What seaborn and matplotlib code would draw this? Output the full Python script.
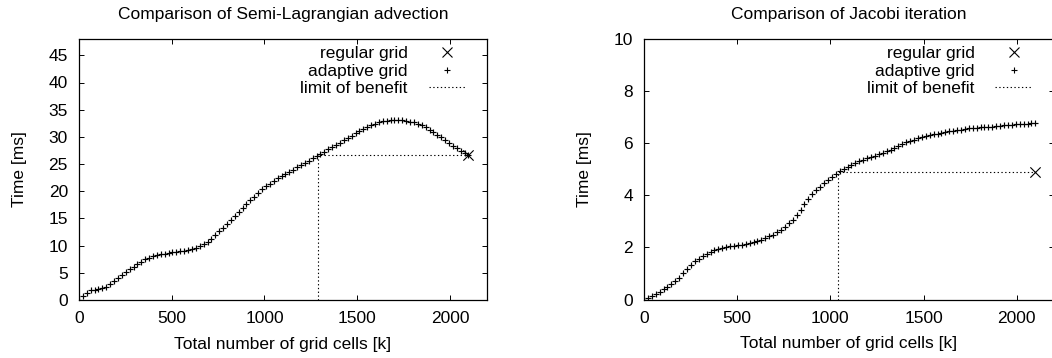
import matplotlib
matplotlib.use("Agg")
import matplotlib.pyplot as plt
import seaborn as sns
import pandas as pd
from matplotlib.lines import Line2D

# ---------------- data ----------------
cells_k = [0, 21, 42, 63, 84, 105, 126, 147, 168, 189, 210, 231, 252, 273, 294, 315, 336, 357, 378, 399,
           420, 441, 462, 483, 504, 525, 546, 567, 588, 609, 630, 651, 672, 693, 714, 735, 756, 777, 798, 819,
           840, 861, 882, 903, 924, 945, 966, 987, 1008, 1029, 1050, 1071, 1092, 1113, 1134, 1155, 1176, 1197,
           1218, 1239, 1260, 1281, 1302, 1323, 1344, 1365, 1386, 1407, 1428, 1449, 1470, 1491, 1512, 1533,
           1554, 1575, 1596, 1617, 1638, 1659, 1680, 1701, 1722, 1743, 1764, 1785, 1806, 1827, 1848, 1869,
           1890, 1911, 1932, 1953, 1974, 1995, 2016, 2037, 2058, 2079, 2100]

advection_ms = [0.0, 0.7, 1.35, 1.75, 1.92, 2.0, 2.12, 2.45, 3.0, 3.55, 4.1, 4.6, 5.2, 5.7, 6.15, 6.65,
                7.05, 7.45, 7.8, 8.05, 8.25, 8.4, 8.55, 8.65, 8.75, 8.85, 8.95, 9.1, 9.25, 9.45, 9.65, 9.95,
                10.3, 10.75, 11.3, 11.9, 12.6, 13.3, 14.0, 14.7, 15.4, 16.1, 16.9, 17.6, 18.3, 19.0, 19.7,
                20.4, 20.9, 21.4, 21.9, 22.35, 22.75, 23.15, 23.6, 24.0, 24.4, 24.8, 25.2, 25.65, 26.1, 26.5,
                26.9, 27.3, 27.75, 28.15, 28.55, 28.95, 29.4, 29.8, 30.2, 30.65, 31.05, 31.45, 31.85, 32.15,
                32.45, 32.7, 32.9, 33.0, 33.1, 33.15, 33.1, 33.05, 32.95, 32.8, 32.65, 32.4, 32.1, 31.8,
                31.35, 30.9, 30.4, 29.9, 29.4, 28.9, 28.4, 27.9, 27.4, 27.0, 26.6]

jacobi_ms = [0.0, 0.06, 0.13, 0.21, 0.3, 0.4, 0.48, 0.58, 0.7, 0.84, 1.0, 1.17, 1.34, 1.47, 1.57, 1.66,
             1.75, 1.83, 1.89, 1.94, 1.98, 2.01, 2.04, 2.06, 2.08, 2.1, 2.13, 2.16, 2.2, 2.25, 2.3, 2.36,
             2.42, 2.49, 2.58, 2.68, 2.8, 2.93, 3.07, 3.25, 3.45, 3.67, 3.86, 4.04, 4.19, 4.33, 4.48, 4.6,
             4.71, 4.81, 4.92, 5.0, 5.09, 5.17, 5.24, 5.3, 5.36, 5.42, 5.47, 5.52, 5.57, 5.63, 5.69, 5.75,
             5.82, 5.88, 5.96, 6.03, 6.08, 6.14, 6.19, 6.24, 6.28, 6.31, 6.34, 6.37, 6.4, 6.43, 6.46, 6.48,
             6.5, 6.52, 6.55, 6.57, 6.59, 6.6, 6.61, 6.62, 6.63, 6.64, 6.66, 6.67, 6.69, 6.7, 6.71, 6.72,
             6.73, 6.74, 6.75, 6.76, 6.77]

regular_cells_k = [2100]
advection_regular_ms = [26.6]
jacobi_regular_ms = [4.88]

advection_limit_k = 1287
jacobi_limit_k = 1042

titles = ["Comparison of Semi-Lagrangian advection", "Comparison of Jacobi iteration"]
legend_labels = ["regular grid", "adaptive grid", "limit of benefit"]
x_label = "Total number of grid cells [k]"
y_label = "Time [ms]"
x_ticks = [0, 500, 1000, 1500, 2000]
adv_y_ticks = [0, 5, 10, 15, 20, 25, 30, 35, 40, 45]
jac_y_ticks = [0, 2, 4, 6, 8, 10]

# ---------------- style ----------------
sns.set_style("ticks")
plt.rcParams["font.family"] = ["Liberation Sans", "DejaVu Sans"]
plt.rcParams["font.size"] = 12.5
plt.rcParams["axes.linewidth"] = 0.9
plt.rcParams["axes.edgecolor"] = "black"
plt.rcParams["text.color"] = "black"
plt.rcParams["axes.labelcolor"] = "black"
plt.rcParams["xtick.color"] = "black"
plt.rcParams["ytick.color"] = "black"

W, H = 1052, 358
fig = plt.figure(figsize=(W / 100, H / 100), dpi=100)
fig.patch.set_facecolor("white")


def px_axes(x0, x1, ytop, ybot):
    return fig.add_axes([x0 / W, (H - ybot) / H, (x1 - x0) / W, (ybot - ytop) / H])


ax1 = px_axes(79, 487, 39, 300)
ax2 = px_axes(644, 1054, 39, 299.5)

dot_style = (0, (1.2, 2.2))


def draw(ax, y_adapt, y_reg, lim_x, ylim, yticks, title):
    df = pd.DataFrame({"cells": cells_k, "time": y_adapt})
    sns.scatterplot(data=df, x="cells", y="time", ax=ax, marker="+", s=18,
                    color="black", linewidth=0.85, zorder=3, legend=False)
    sns.scatterplot(x=regular_cells_k, y=y_reg, ax=ax, marker="x", s=55,
                    color="black", linewidth=0.8, zorder=4, legend=False)
    lim_df = pd.DataFrame({"x": [lim_x, lim_x, regular_cells_k[0]],
                           "y": [0, y_reg[0], y_reg[0]]})
    sns.lineplot(data=lim_df, x="x", y="y", ax=ax, sort=False, estimator=None,
                 color="black", linewidth=0.8, linestyle=dot_style, zorder=2, legend=False)
    ax.set_xlim(0, 2200)
    ax.set_ylim(*ylim)
    ax.set_xticks(x_ticks)
    ax.set_yticks(yticks)
    ax.set_xlabel(x_label, labelpad=7.5)
    ax.set_ylabel(y_label, labelpad=15.2)
    ax.set_title(title, fontsize=12.5, pad=14.5)
    ax.tick_params(direction="in", length=3.5, width=0.7, top=True, right=True,
                   pad=8, labelsize=12.5)
    for s in ax.spines.values():
        s.set_visible(True)
        s.set_linewidth(0.9)

    handles = [
        Line2D([], [], linestyle="none", marker="x", markersize=7.2, markeredgewidth=0.8, color="black"),
        Line2D([], [], linestyle="none", marker="+", markersize=4.2, markeredgewidth=0.8, color="black"),
        Line2D([], [], linestyle=dot_style, linewidth=0.8, color="black"),
    ]
    ax.legend(handles, legend_labels, loc="upper right", bbox_to_anchor=(0.946, 0.972),
              frameon=False, markerfirst=False, handlelength=2.1, handletextpad=1.2,
              labelspacing=0.13, borderpad=0, borderaxespad=0, fontsize=12.5)


draw(ax1, advection_ms, advection_regular_ms, advection_limit_k, (0, 48), adv_y_ticks, titles[0])
draw(ax2, jacobi_ms, jacobi_regular_ms, jacobi_limit_k, (0, 10), jac_y_ticks, titles[1])

fig.savefig("out.png", dpi=100, facecolor="white")
